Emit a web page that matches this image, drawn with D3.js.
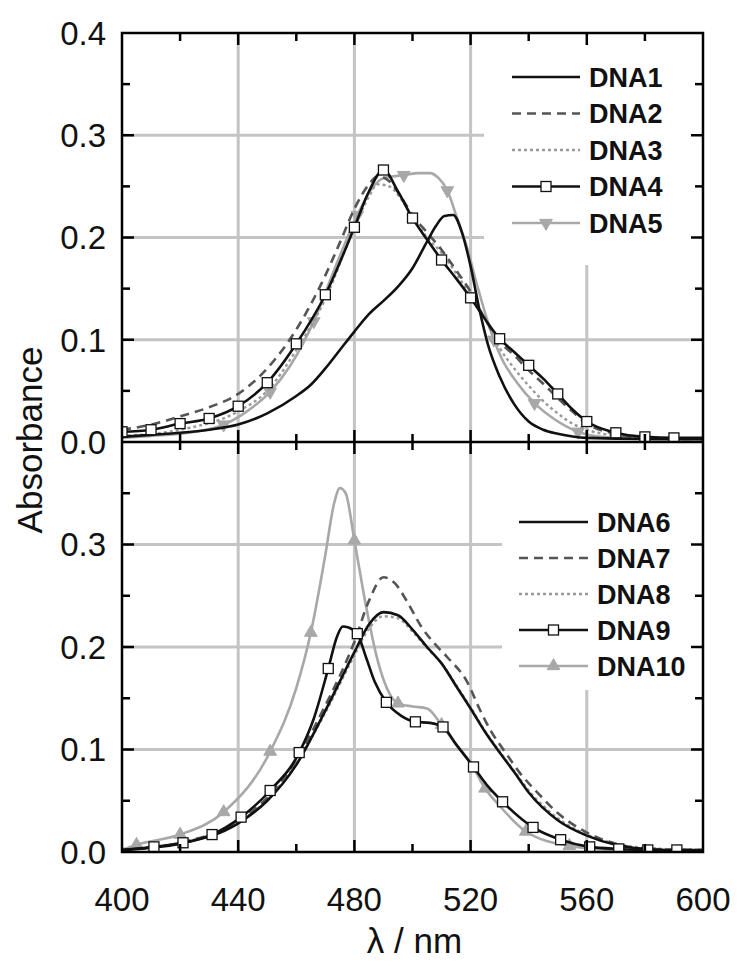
<!DOCTYPE html>
<html><head><meta charset="utf-8">
<script src="https://cdn.jsdelivr.net/npm/d3@7"></script>
<style>body{margin:0;background:#fff}svg{display:block}</style>
</head><body><svg id="c" width="737" height="970"></svg>
<script>
// ---------- data (wavelength nm, absorbance) ----------
const xTicks = [400, 440, 480, 520, 560, 600];
const xMinorTicks = [420, 460, 500, 540, 580];
const yTicksTop = [0.0, 0.1, 0.2, 0.3, 0.4];
const yTicksBottom = [0.0, 0.1, 0.2, 0.3];
const yMinorTicks = [0.05, 0.15, 0.25, 0.35];

const dna1 = [[400,0.005],[410,0.007],[420,0.009],[430,0.012],[440,0.017],[450,0.028],[460,0.045],[465,0.056],[470,0.072],[475,0.09],[480,0.108],[485,0.125],[490,0.138],[495,0.152],[500,0.17],[505,0.196],[508,0.211],[511,0.221],[514,0.222],[517,0.205],[520,0.172],[523,0.13],[526,0.095],[530,0.064],[535,0.037],[540,0.02],[545,0.012],[550,0.008],[560,0.004],[580,0.003],[600,0.003]];
const dna2 = [[400,0.012],[410,0.017],[420,0.025],[430,0.034],[440,0.047],[450,0.072],[460,0.11],[470,0.163],[475,0.195],[480,0.228],[485,0.252],[488,0.26],[492,0.255],[496,0.24],[500,0.222],[505,0.205],[510,0.188],[515,0.168],[520,0.147],[525,0.12],[530,0.098],[535,0.085],[540,0.07],[545,0.057],[550,0.043],[555,0.03],[560,0.018],[570,0.008],[580,0.004],[590,0.003],[600,0.003]];
const dna3 = [[400,0.006],[420,0.012],[440,0.03],[450,0.05],[460,0.09],[470,0.14],[480,0.21],[485,0.24],[488,0.252],[492,0.25],[496,0.238],[500,0.22],[505,0.2],[510,0.185],[515,0.165],[520,0.143],[525,0.12],[530,0.092],[535,0.072],[540,0.055],[545,0.04],[550,0.028],[555,0.018],[560,0.012],[570,0.006],[580,0.004],[600,0.003]];
const dna4 = [[400,0.01],[410,0.012],[420,0.018],[430,0.023],[440,0.035],[450,0.058],[460,0.096],[470,0.144],[480,0.21],[485,0.245],[490,0.266],[495,0.245],[500,0.219],[505,0.198],[510,0.178],[515,0.16],[520,0.141],[525,0.12],[530,0.101],[535,0.088],[540,0.075],[545,0.062],[550,0.047],[555,0.032],[560,0.02],[570,0.009],[580,0.005],[590,0.004],[600,0.004]];
const dna4Markers = [400,410,420,430,440,450,460,470,480,490,500,510,520,530,540,550,560,570,580,590];
const dna5 = [[400,0.004],[410,0.006],[420,0.008],[435,0.017],[443,0.03],[451,0.049],[458,0.075],[466,0.118],[474,0.175],[481,0.222],[486,0.248],[490,0.258],[497,0.261],[502,0.263],[506,0.263],[509,0.258],[512,0.246],[515,0.222],[519,0.188],[522,0.156],[526,0.117],[528,0.1],[531,0.08],[536,0.058],[542,0.038],[549,0.022],[557,0.01],[565,0.005],[580,0.003],[600,0.002]];
const dna5Markers = [435,451,466,481,497,512,528,542,557];

const dna6 = [[400,0.002],[420,0.008],[440,0.028],[450,0.05],[460,0.085],[470,0.138],[480,0.195],[485,0.222],[490,0.234],[495,0.231],[500,0.217],[505,0.2],[510,0.184],[515,0.162],[520,0.14],[525,0.117],[530,0.097],[535,0.078],[540,0.058],[550,0.031],[560,0.016],[570,0.007],[580,0.003],[600,0.001]];
const dna7 = [[400,0.002],[420,0.009],[440,0.03],[450,0.053],[460,0.09],[470,0.143],[475,0.172],[480,0.205],[485,0.245],[490,0.268],[494,0.262],[498,0.245],[503,0.22],[508,0.202],[512,0.19],[519,0.165],[523,0.14],[527,0.118],[532,0.097],[537,0.077],[543,0.058],[550,0.038],[560,0.019],[570,0.008],[580,0.003],[600,0.002]];
const dna8 = [[400,0.003],[420,0.009],[440,0.029],[450,0.051],[460,0.087],[470,0.136],[480,0.192],[485,0.218],[490,0.23],[495,0.228],[500,0.215],[505,0.199],[510,0.184],[515,0.163],[520,0.141],[525,0.118],[530,0.098],[535,0.079],[540,0.06],[550,0.033],[560,0.017],[570,0.008],[580,0.004],[600,0.002]];
const dna9 = [[400,0.002],[411,0.005],[421,0.009],[431,0.017],[441,0.034],[451,0.06],[461,0.097],[466,0.13],[471,0.179],[474,0.21],[476,0.22],[478,0.219],[481,0.213],[484,0.19],[487,0.166],[491,0.146],[496,0.133],[501,0.127],[506,0.126],[510.5,0.122],[515,0.105],[521,0.083],[526,0.064],[531,0.049],[541.5,0.024],[551,0.012],[561,0.005],[571,0.003],[581,0.002],[591,0.002],[600,0.002]];
const dna9Markers = [411,421,431,441,451,461,471,481,491,501,510.5,521,531,541.5,551,561,571,581,591];
const dna10 = [[400,0.002],[405,0.007],[420,0.017],[435,0.039],[451,0.098],[460,0.16],[465,0.214],[470,0.29],[473,0.34],[475,0.355],[477,0.35],[480,0.304],[484,0.24],[488,0.187],[492,0.155],[495,0.145],[500,0.142],[505,0.14],[510,0.124],[515,0.105],[520,0.087],[525,0.062],[530,0.045],[539,0.02],[554,0.006],[570,0.002],[600,0.001]];
const dna10Markers = [405,420,435,451,465,480,495,510,525,539,554];

// ---------- layout ----------
const L = 122, R = 703, T1 = 33, B1 = 442, T2 = 442, B2 = 852;
const svg = d3.select("#c");
const x = d3.scaleLinear().domain([400, 600]).range([L, R]);
const y1 = d3.scaleLinear().domain([0, 0.4]).range([B1, T1]);
const y2 = d3.scaleLinear().domain([0, 0.4]).range([B2, T2]);
const GRID = "#c4c4c4";

const series1 = [
  {name:"DNA1", data:dna1, color:"#111", dash:null, w:2.6},
  {name:"DNA2", data:dna2, color:"#555", dash:"9,6", w:2.6},
  {name:"DNA3", data:dna3, color:"#999", dash:"3,3", w:2.4},
  {name:"DNA4", data:dna4, color:"#111", dash:null, w:2.6, marker:"square", mk:dna4Markers},
  {name:"DNA5", data:dna5, color:"#a8a8a8", dash:null, w:2.6, marker:"down", mk:dna5Markers}
];
const series2 = [
  {name:"DNA6", data:dna6, color:"#111", dash:null, w:2.6},
  {name:"DNA7", data:dna7, color:"#555", dash:"9,6", w:2.6},
  {name:"DNA8", data:dna8, color:"#999", dash:"3,3", w:2.4},
  {name:"DNA9", data:dna9, color:"#111", dash:null, w:2.6, marker:"square", mk:dna9Markers},
  {name:"DNA10", data:dna10, color:"#a8a8a8", dash:null, w:2.6, marker:"up", mk:dna10Markers}
];

function panel(y, top, bottom, series, legend, yLabels) {
  const g = svg.append("g");
  g.selectAll(".vg").data(xTicks.slice(1, -1)).enter().append("line")
    .attr("x1", d => x(d)).attr("x2", d => x(d)).attr("y1", top).attr("y2", bottom)
    .attr("stroke", GRID).attr("stroke-width", 3);
  g.selectAll(".hg").data([0.1, 0.2, 0.3]).enter().append("line")
    .attr("x1", L).attr("x2", R).attr("y1", d => y(d)).attr("y2", d => y(d))
    .attr("stroke", GRID).attr("stroke-width", 3);
  g.append("rect").attr("x", legend.bx).attr("y", legend.by).attr("width", R - 2 - legend.bx)
    .attr("height", legend.bh).attr("fill", "#fff");
  const line = d3.line().x(d => x(d[0])).y(d => y(d[1])).curve(d3.curveMonotoneX);
  const clipId = "clip" + top;
  svg.append("clipPath").attr("id", clipId).append("rect")
    .attr("x", L).attr("y", top).attr("width", R - L).attr("height", bottom - top);
  const cg = g.append("g").attr("clip-path", `url(#${clipId})`);
  const order = [4, 2, 1, 0, 3];
  order.forEach(i => {
    const s = series[i];
    cg.append("path").datum(s.data).attr("d", line).attr("fill", "none")
      .attr("stroke", s.color).attr("stroke-width", s.w)
      .attr("stroke-dasharray", s.dash).attr("stroke-linejoin", "round");
    if (s.marker) {
      const pts = s.data.filter(d => s.mk.includes(d[0]));
      drawMarkers(cg, pts.map(d => [x(d[0]), y(d[1])]), s);
    }
  });
  series.forEach((s, i) => {
    const ly = legend.y0 + i * legend.dy;
    g.append("line").attr("x1", legend.x0).attr("x2", legend.x1).attr("y1", ly).attr("y2", ly)
      .attr("stroke", s.color).attr("stroke-width", s.w).attr("stroke-dasharray", s.dash);
    if (s.marker) drawMarkers(g, [[(legend.x0 + legend.x1) / 2, ly]], s);
    g.append("text").attr("x", legend.tx).attr("y", ly).attr("dy", "0.36em")
      .attr("font-family", "Liberation Sans, Arial, sans-serif").attr("font-weight", "bold")
      .attr("font-size", 27).attr("fill", "#111").text(s.name);
  });
  g.selectAll(".yl").data(yLabels).enter().append("text")
    .attr("x", 106).attr("y", d => y(d)).attr("dy", "0.36em").attr("text-anchor", "end")
    .attr("font-family", "Liberation Sans, Arial, sans-serif").attr("font-size", 33)
    .attr("fill", "#111").text(d => d3.format(".1f")(d));
}

function drawMarkers(g, pts, s) {
  pts.forEach(p => {
    if (s.marker === "square") {
      g.append("rect").attr("x", p[0] - 5).attr("y", p[1] - 5).attr("width", 10).attr("height", 10)
        .attr("fill", "#fff").attr("stroke", "#111").attr("stroke-width", 1.3);
    } else {
      const sym = d3.symbol().type(d3.symbolTriangle).size(70)();
      g.append("path").attr("d", sym)
        .attr("transform", `translate(${p[0]},${p[1]}) rotate(${s.marker === "down" ? 180 : 0})`)
        .attr("fill", s.color).attr("stroke", s.color).attr("stroke-width", 1);
    }
  });
}

panel(y1, T1, B1, series1,
  {bx: 484, by: T1 + 2, bh: 230, x0: 512, x1: 580, tx: 589, y0: 77, dy: 36.5},
  yTicksTop);
panel(y2, T2, B2, series2,
  {bx: 502, by: T2 + 2, bh: 246, x0: 519, x1: 588, tx: 597, y0: 522, dy: 36},
  yTicksBottom);

const ax = svg.append("g").attr("stroke", "#000").attr("stroke-width", 2.5);
ax.append("rect").attr("x", L).attr("y", T1).attr("width", R - L).attr("height", B2 - T1).attr("fill", "none");
ax.append("line").attr("x1", L).attr("x2", R).attr("y1", B1).attr("y2", B1);
const MJ = 12, MN = 8;
function xt(vals, len) {
  vals.forEach(v => {
    const px = x(v);
    ax.append("line").attr("x1", px).attr("x2", px).attr("y1", T1).attr("y2", T1 + len);
    ax.append("line").attr("x1", px).attr("x2", px).attr("y1", B1 - len).attr("y2", B1 + len);
    ax.append("line").attr("x1", px).attr("x2", px).attr("y1", B2).attr("y2", B2 - len);
  });
}
xt(xTicks.slice(1, -1), MJ); xt(xMinorTicks, MN);
function yt(vals, len) {
  [y1, y2].forEach(y => vals.forEach(v => {
    const py = y(v);
    ax.append("line").attr("x1", L).attr("x2", L + len).attr("y1", py).attr("y2", py);
    ax.append("line").attr("x1", R).attr("x2", R - len).attr("y1", py).attr("y2", py);
  }));
}
yt([0.1, 0.2, 0.3], MJ); yt(yMinorTicks, MN);

svg.selectAll(".xl").data(xTicks).enter().append("text")
  .attr("x", d => x(d)).attr("y", 911).attr("text-anchor", "middle")
  .attr("font-family", "Liberation Sans, Arial, sans-serif").attr("font-size", 33)
  .attr("fill", "#111").text(d => d);
svg.append("text").attr("x", (L + R) / 2 + 2).attr("y", 953).attr("text-anchor", "middle")
  .attr("font-family", "Liberation Sans, Arial, sans-serif").attr("font-size", 35)
  .attr("fill", "#111").text("λ / nm");
svg.append("text").attr("transform", "translate(42,440) rotate(-90)").attr("text-anchor", "middle")
  .attr("font-family", "Liberation Sans, Arial, sans-serif").attr("font-size", 35)
  .attr("fill", "#111").text("Absorbance");
</script></body></html>
